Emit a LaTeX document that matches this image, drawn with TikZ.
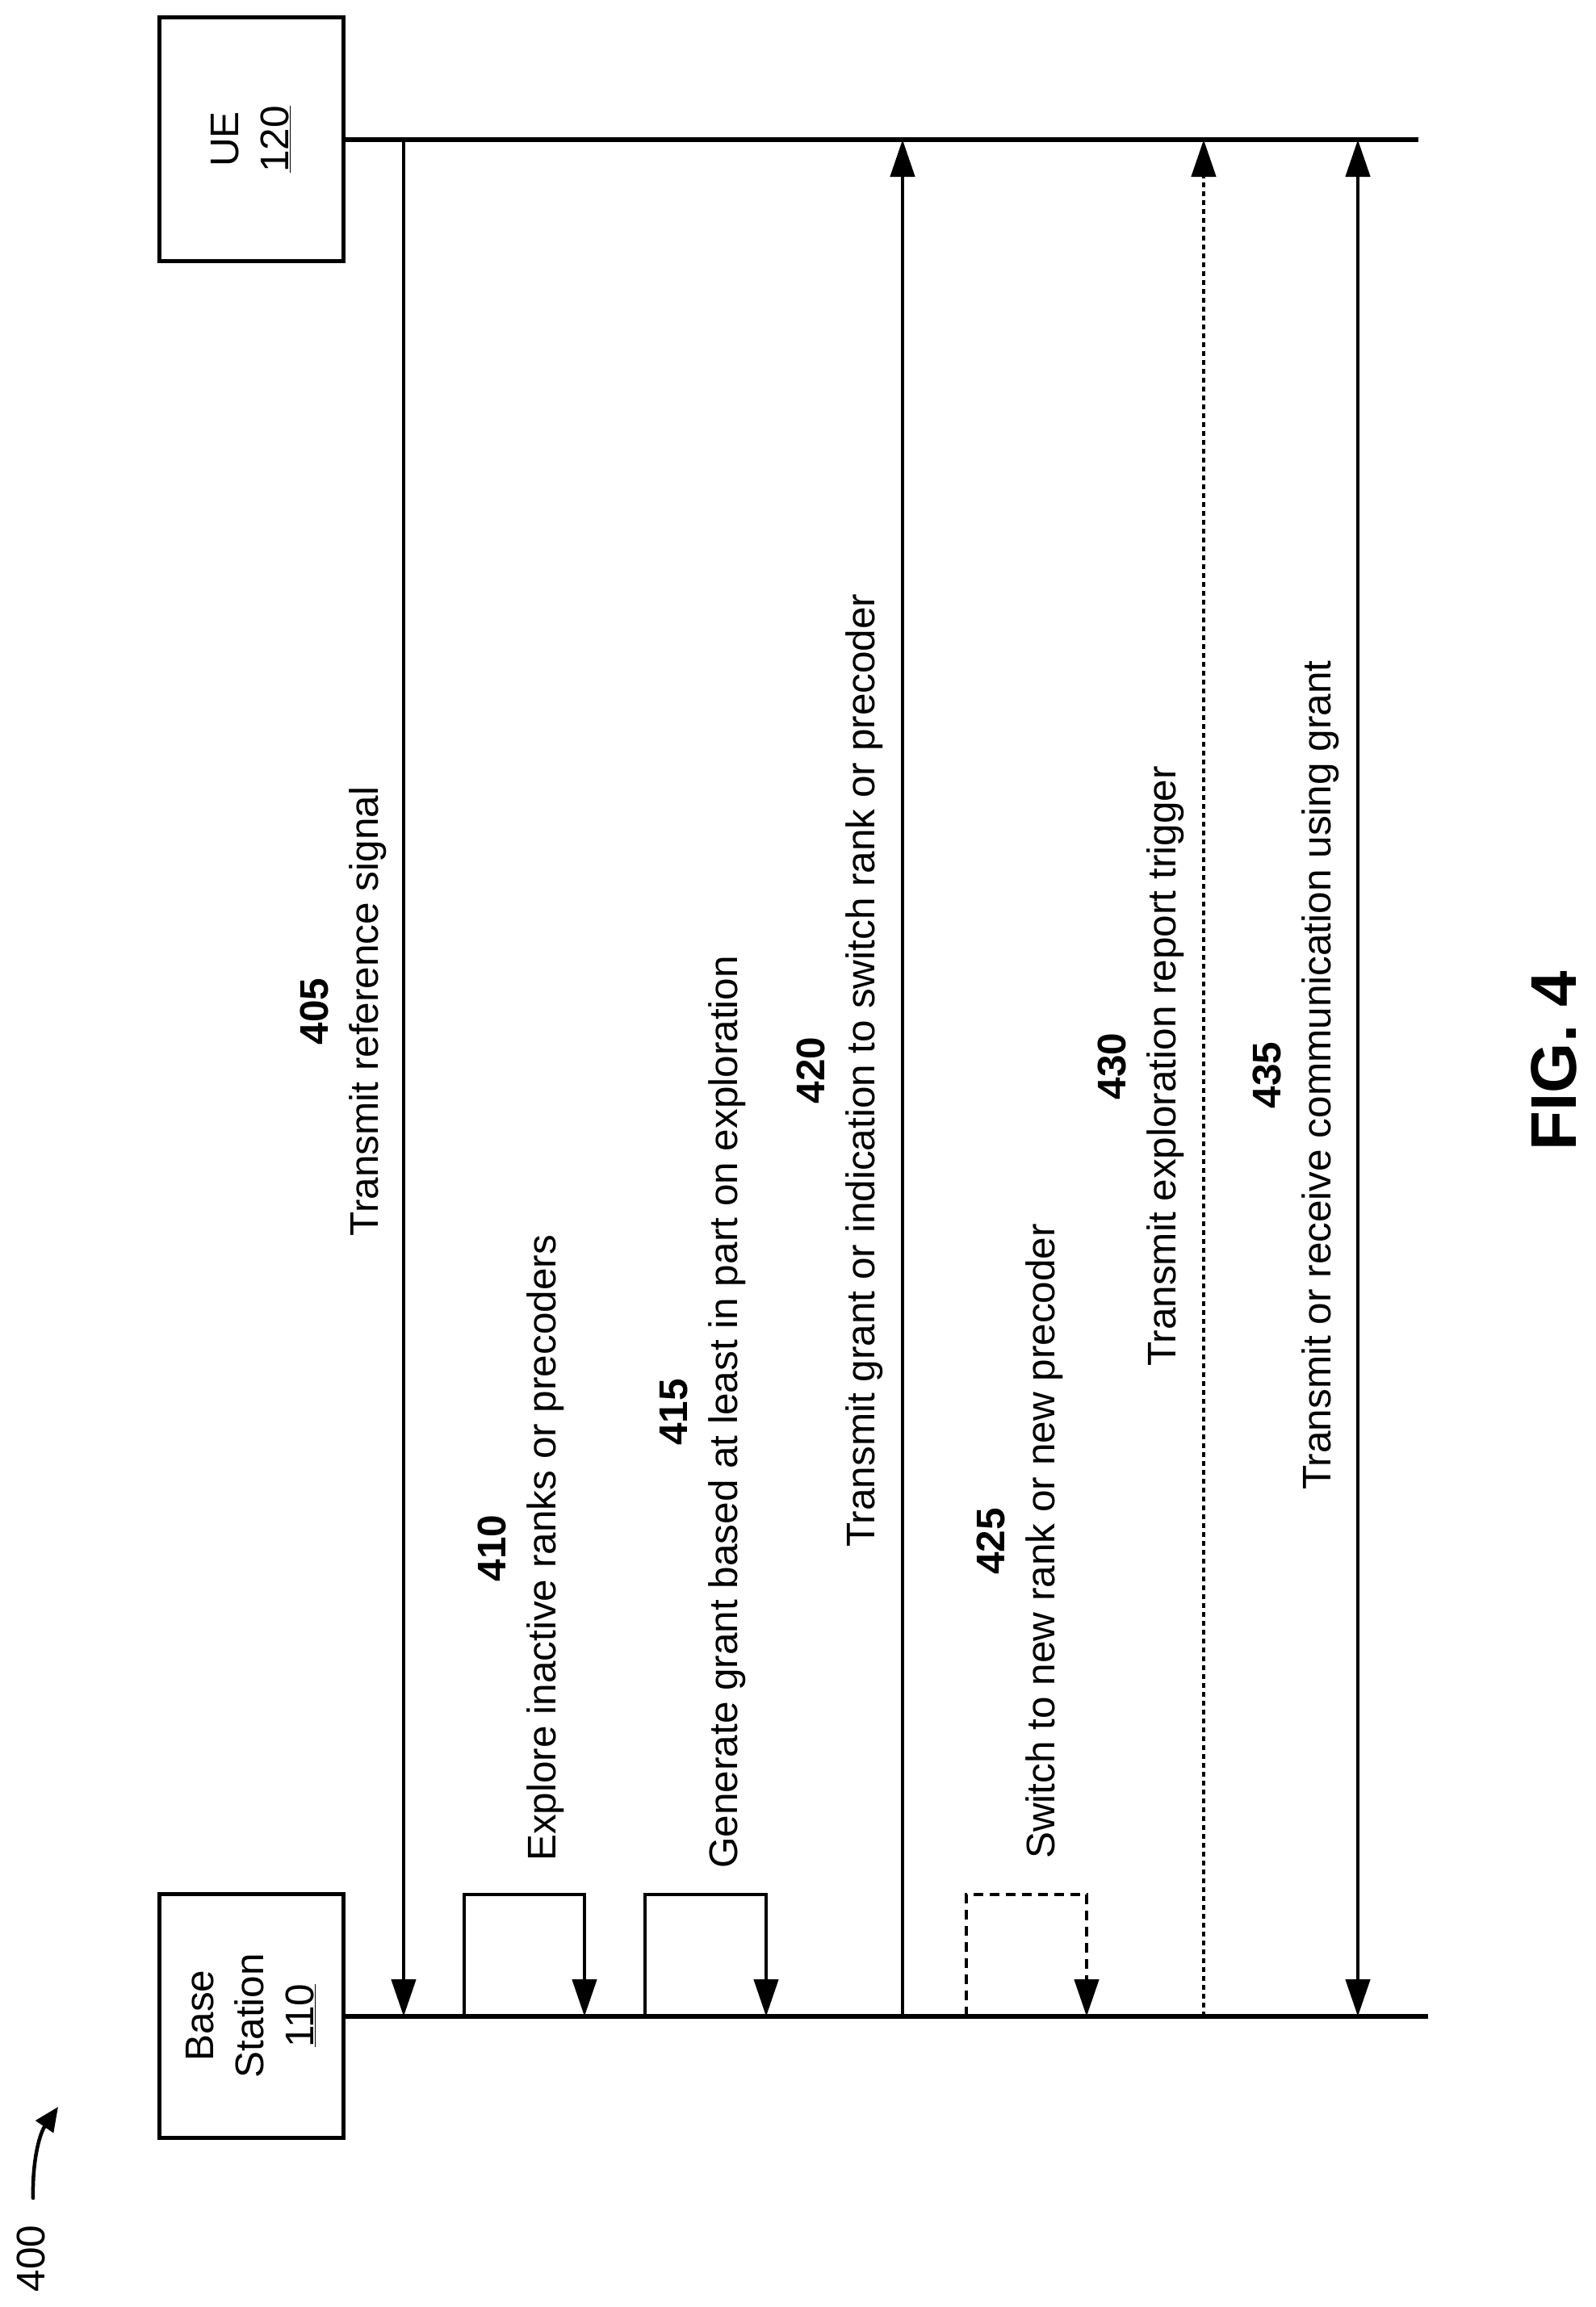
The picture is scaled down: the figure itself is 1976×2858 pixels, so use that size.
\documentclass[tikz,border=0pt]{standalone}
\usepackage{fontspec}
\setmainfont{Liberation Sans}
\usetikzlibrary{arrows.meta}
\begin{document}
\begin{tikzpicture}[x=1pt,y=-1pt,
  ent/.style={draw,line width=5pt,minimum width=228pt,inner sep=0pt},
  life/.style={line width=6pt},
  msg/.style={line width=4.5pt,-{Triangle[length=46pt,width=30pt]}},
  dmsg/.style={msg,dash pattern=on 6pt off 5pt},
  dloop/.style={msg,dash pattern=on 12pt off 8pt},
  lbl/.style={rotate=90,align=center,inner sep=0pt,font=\fontsize{49.5}{62}\selectfont},
  num/.style={font=\bfseries}]
\useasboundingbox (0,0) rectangle (1976,2858);
\node[ent,minimum height=301pt] (ue) at (311,172.5) {};
\node[ent,minimum height=302pt] (bs) at (311,2497) {};
\node[lbl] at (ue.center) {UE\\\underline{120}};
\node[lbl] at (bs.center) {Base\\Station\\\underline{110}};
\coordinate (ueE) at (1757,173);
\coordinate (bsE) at (1769,2498);
\draw[life] (ue.east |- ueE) -- (ueE);
\draw[life] (bs.east |- bsE) -- (bsE);
% 405
\coordinate (a1) at (500,173); \coordinate (b1) at (500,2498);
\draw[msg] (a1) -- (b1);
\node[lbl] at (425,1253) {\textbf{405}\\Transmit reference signal};
% 410
\coordinate (l1a) at (575,2498); \coordinate (l1b) at (724,2498);
\draw[msg] (l1a) -- (575,2347) -- (724,2347) -- (l1b);
\node[lbl,anchor=west] at (645,2306) {\textbf{410}\\Explore inactive ranks or precoders};
% 415
\coordinate (l2a) at (799,2498); \coordinate (l2b) at (949,2498);
\draw[msg] (l2a) -- (799,2347) -- (949,2347) -- (l2b);
\node[lbl,anchor=west] at (871,2315) {\textbf{415}\\Generate grant based at least in part on exploration};
% 420
\coordinate (a4) at (1118,2498); \coordinate (b4) at (1118,173);
\draw[msg] (a4) -- (b4);
\node[lbl] at (1040,1326) {\textbf{420}\\Transmit grant or indication to switch rank or precoder};
% 425
\coordinate (l3a) at (1197,2498); \coordinate (l3b) at (1346,2498);
\draw[dloop] (l3a) -- (1197,2347) -- (1346,2347) -- (l3b);
\node[lbl,anchor=west] at (1263,2303) {\textbf{425}\\Switch to new rank or new precoder};
% 430
\coordinate (a5) at (1491,2498); \coordinate (b5) at (1491,173);
\draw[dmsg] (a5) -- (b5);
\node[lbl] at (1413,1321) {\textbf{430}\\Transmit exploration report trigger};
% 435
\coordinate (a6) at (1682,2498); \coordinate (b6) at (1682,173);
\draw[msg,{Triangle[length=46pt,width=30pt]}-{Triangle[length=46pt,width=30pt]}] (a6) -- (b6);
\node[lbl] at (1605,1332) {\textbf{435}\\Transmit or receive communication using grant};
% FIG
\node[lbl,font=\bfseries\fontsize{80}{90}\selectfont] (fig) at (1925,1314) {FIG. 4};
% 400
\node[lbl] (n400) at (38,2798) {400};
\coordinate (c400) at (41,2723);
\coordinate (t400) at (72,2610);
\draw[line width=4.5pt,line cap=round,-{Triangle[length=30pt,width=26pt]}] (c400) .. controls (40,2680) and (48,2645) .. (t400);
\end{tikzpicture}
\end{document}
